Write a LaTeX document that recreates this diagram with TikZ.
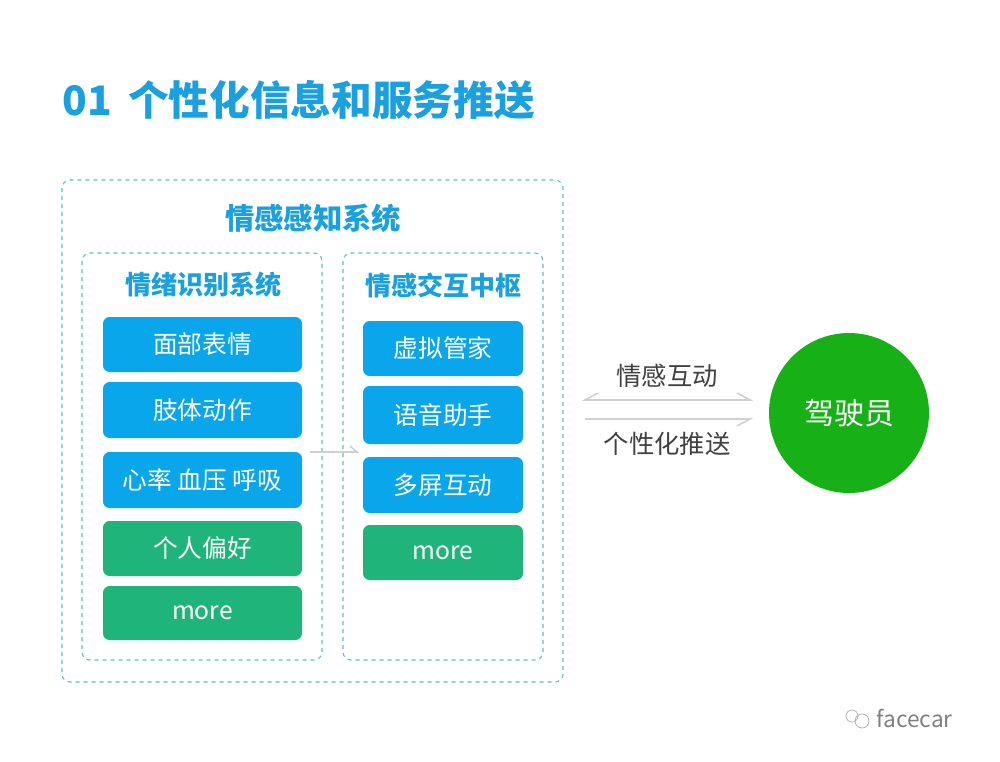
\documentclass[tikz,border=0pt]{standalone}
\usepackage{fontspec}
\setmainfont{Noto Sans CJK SC}
\definecolor{tblue}{HTML}{1AA0DE}
\definecolor{bblue}{HTML}{0AA6EC}
\definecolor{bgreen}{HTML}{1FB57A}
\definecolor{dteal}{HTML}{5BBFC0}
\definecolor{cgreen}{HTML}{17B117}
\definecolor{lgray}{HTML}{D0D0D0}
\begin{document}
\begin{tikzpicture}[x=0.75pt,y=-0.75pt,
  dbox/.style={draw=dteal,dashed,rounded corners=6pt,line width=0.8pt},
  hd/.style={text=tblue,font=\fontsize{19.5}{22}\selectfont\bfseries},
  bt/.style={text=white,font=\fontsize{18.5}{20}\selectfont},
  lab/.style={text=black!75,font=\fontsize{19}{21}\selectfont},
  ln/.style={draw=lgray,line width=1.2pt}]
\useasboundingbox (0,0) rectangle (1000,761);
\node[anchor=west,text=tblue,font=\fontsize{30.5}{34}\selectfont\bfseries] (title) at (58,100) {01\, 个性化信息和服务推送};
\draw[dbox] (62,180) rectangle (563,682);
\node[hd,font=\fontsize{22}{24}\selectfont\bfseries] (sys) at (313,218) {情感感知系统};
\draw[dbox] (82,253) rectangle (322,660);
\draw[dbox] (343,253) rectangle (543,660);
\node[hd] (l) at (203,285) {情绪识别系统};
\node[hd] (r) at (443,285) {情感交互中枢};
\foreach \n/\t/\a/\b/\c in {a/面部表情/317/372/bblue,b/肢体动作/382/438/bblue,c/心率\ 血压\ 呼吸/452/508/bblue,d/个人偏好/521/576/bgreen,e/more/586/640/bgreen}{
  \fill[\c,rounded corners=5pt] (103,\a) rectangle (302,\b);
  \node[bt] (\n) at (202.5,{(\a+\b)/2}) {\t};}
\foreach \n/\t/\a/\b/\c in {f/虚拟管家/321/376/bblue,g/语音助手/386/444/bblue,h/多屏互动/457/513/bblue,i/more/525/580/bgreen}{
  \fill[\c,rounded corners=5pt] (363,\a) rectangle (523,\b);
  \node[bt] (\n) at (443,{(\a+\b)/2}) {\t};}
\draw[ln] (310,452) -- (357,452) -- (350,446);
\draw[ln] (598,393) -- (585,400) -- (750,400) -- (737,393);
\draw[ln] (585,419) -- (750,419) -- (737,426);
\node[lab] (t1) at (667,376) {情感互动};
\node[lab] (t2) at (667,444) {个性化推送};
\fill[cgreen] (849,413) circle (80);
\node[text=white,font=\fontsize{22.5}{24}\selectfont] (drv) at (849,413) {驾驶员};
\draw[black!30,line width=0.6pt] (852,716) circle (6) (862,721) circle (7);
\node[anchor=west,text=black!50,font=\fontsize{17}{19}\selectfont] (wm) at (872,718) {facecar};
\end{tikzpicture}
\end{document}
